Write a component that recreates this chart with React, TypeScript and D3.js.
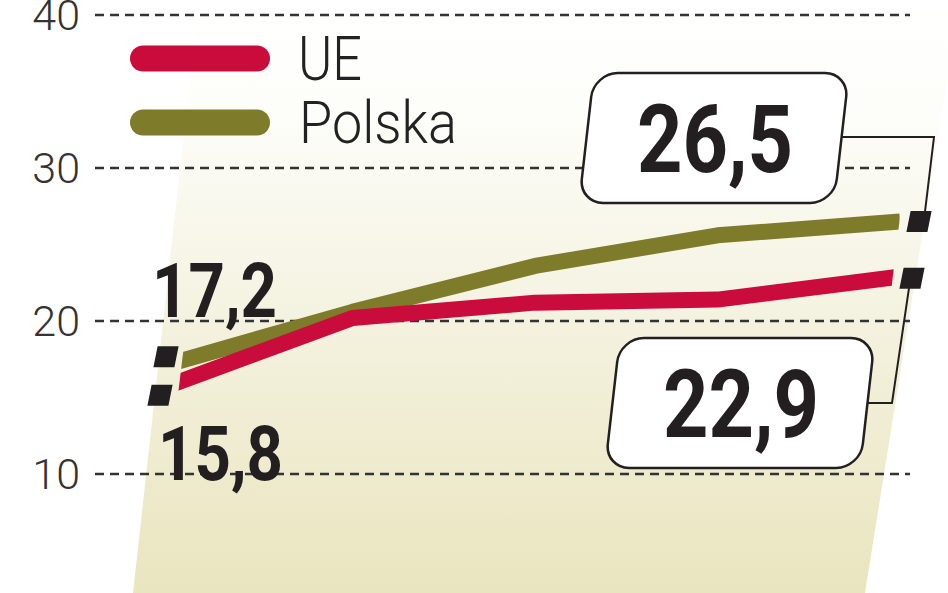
import React from "react";
import * as d3 from "d3";

const categories = ["p1", "p2", "p3", "p4", "p5"];
const seriesNames = ["UE", "Polska"];
const ueValues = [15.8, 20.2, 21.2, 21.4, 22.9];
const polskaValues = [17.2, 20.6, 23.6, 25.6, 26.5];
const yTicks = [10, 20, 30, 40];

const W = 948;
const H = 593;
const RED = "#c90c3b";
const OLIVE = "#7e7b2b";
const INK = "#231f20";

function para(cx: number, cy: number, w: number, h: number, k: number) {
  const s = (k * h) / 2;
  return [
    [cx - w / 2 + s, cy - h / 2],
    [cx + w / 2 + s, cy - h / 2],
    [cx + w / 2 - s, cy + h / 2],
    [cx - w / 2 - s, cy + h / 2],
  ]
    .map((p) => p.join(","))
    .join(" ");
}

export default function App() {
  const x = d3.scalePoint<string>().domain(categories).range([170, 900]);
  const y = d3.scaleLinear().domain([0, 40]).range([627, 15]);
  const line = d3
    .line<number>()
    .x((_, i) => x(categories[i]) as number)
    .y((d) => y(d));
  const fmt = (v: number) => v.toFixed(1).replace(".", ",");

  const k = 0.12;
  const clipPts = [
    [181 - k * (0 - 370), 0],
    [896 - k * (0 - 250), 0],
    [896 - k * (H - 250), H],
    [181 - k * (H - 370), H],
  ]
    .map((p) => p.join(","))
    .join(" ");

  const x0 = x(categories[0]) as number;
  const xN = x(categories[categories.length - 1]) as number;
  const pl0 = polskaValues[0];
  const ue0 = ueValues[0];
  const plN = polskaValues[polskaValues.length - 1];
  const ueN = ueValues[ueValues.length - 1];

  const box1 = { cx: 714, cy: 138 };
  const box2 = { cx: 740, cy: 403 };
  const bw = 255;
  const bh = 130;

  const mk = [
    { cx: x0 - 4, cy: y(pl0) - 7 },
    { cx: x0 - 10, cy: y(ue0) + 10 },
    { cx: xN + 19, cy: y(plN) },
    { cx: xN + 12, cy: y(ueN) + 1.5 },
  ];

  return (
    <svg
      width={W}
      height={H}
      style={{ position: "absolute", left: 0, top: 0 }}
      fontFamily="Roboto, 'Open Sans', sans-serif"
    >
      <defs>
        <linearGradient id="bg" x1="0" y1="0" x2="0" y2={H} gradientUnits="userSpaceOnUse">
          <stop offset="0" stopColor="#ffffff" />
          <stop offset="0.2" stopColor="#fdfdf9" />
          <stop offset="0.5" stopColor="#f5f3e2" />
          <stop offset="1" stopColor="#e9e5bf" />
        </linearGradient>
        <clipPath id="lineClip">
          <polygon points={clipPts} />
        </clipPath>
      </defs>
      <rect width={W} height={H} fill="#fff" />
      <polygon
        points={`133,${H} 865,${H} ${865 + 0.16 * H},0 ${133 + 0.111 * H},0`}
        fill="url(#bg)"
      />
      {yTicks.map((t) => (
        <g key={t}>
          <line
            x1={95}
            x2={910}
            y1={y(t)}
            y2={y(t)}
            stroke="#333"
            strokeWidth={2.5}
            strokeDasharray="9 6"
          />
          <text
            x={80}
            y={y(t)}
            dy="0.36em"
            textAnchor="end"
            fontSize={43}
            fontWeight={300}
            fill="#333"
          >
            {t}
          </text>
        </g>
      ))}
      {/* legend */}
      <line x1={143} x2={257} y1={58.5} y2={58.5} stroke={RED} strokeWidth={26} strokeLinecap="round" />
      <line x1={143} x2={257} y1={122.5} y2={122.5} stroke={OLIVE} strokeWidth={26} strokeLinecap="round" />
      <text x={298} y={80} fontSize={62} fontWeight={300} fill="#222" textLength={64} lengthAdjust="spacingAndGlyphs">
        {seriesNames[0]}
      </text>
      <text x={299} y={143} fontSize={60} fontWeight={300} fill="#222" textLength={158} lengthAdjust="spacingAndGlyphs">
        {seriesNames[1]}
      </text>

      {/* lines */}
      <g clipPath="url(#lineClip)">
        <path d={line(polskaValues) || ""} fill="none" stroke={OLIVE} strokeWidth={16} strokeLinejoin="round" />
        <path d={line(ueValues) || ""} fill="none" stroke={RED} strokeWidth={16} strokeLinejoin="round" />
      </g>

      {/* start labels */}
      <text x={152} y={y(pl0) - 47} fontSize={76} fontWeight={700} fill={INK} textLength={125} lengthAdjust="spacingAndGlyphs">
        {fmt(pl0)}
      </text>
      <text x={158} y={y(ue0) + 95} fontSize={76} fontWeight={700} fill={INK} textLength={125} lengthAdjust="spacingAndGlyphs">
        {fmt(ue0)}
      </text>

      {/* markers */}
      {mk.map((m, i) => (
        <polygon key={i} points={para(m.cx, m.cy, 21, 21, 0.2)} fill={INK} />
      ))}

      {/* connectors */}
      <path
        d={`M${box1.cx + bw / 2 - 2},137 H934 L${mk[2].cx + 6},${mk[2].cy - 10}`}
        fill="none"
        stroke={INK}
        strokeWidth={2}
      />
      <path
        d={`M${box2.cx + bw / 2},${box2.cy} H892 L${mk[3].cx - 3},${mk[3].cy + 10}`}
        fill="none"
        stroke={INK}
        strokeWidth={2}
      />

      {/* end boxes */}
      {[
        { b: box1, v: plN, ty: 172 },
        { b: box2, v: ueN, ty: 437 },
      ].map(({ b, v, ty }, i) => (
        <g key={i}>
          <g transform={`translate(${b.cx},${b.cy}) skewX(-6.5)`}>
            <rect x={-bw / 2} y={-bh / 2} width={bw} height={bh} rx={24} fill="#fff" stroke={INK} strokeWidth={2.5} />
          </g>
          <text
            x={b.cx + 1}
            y={ty}
            textAnchor="middle"
            fontSize={94}
            fontWeight={700}
            fill={INK}
            textLength={156}
            lengthAdjust="spacingAndGlyphs"
          >
            {fmt(v)}
          </text>
        </g>
      ))}
    </svg>
  );
}
